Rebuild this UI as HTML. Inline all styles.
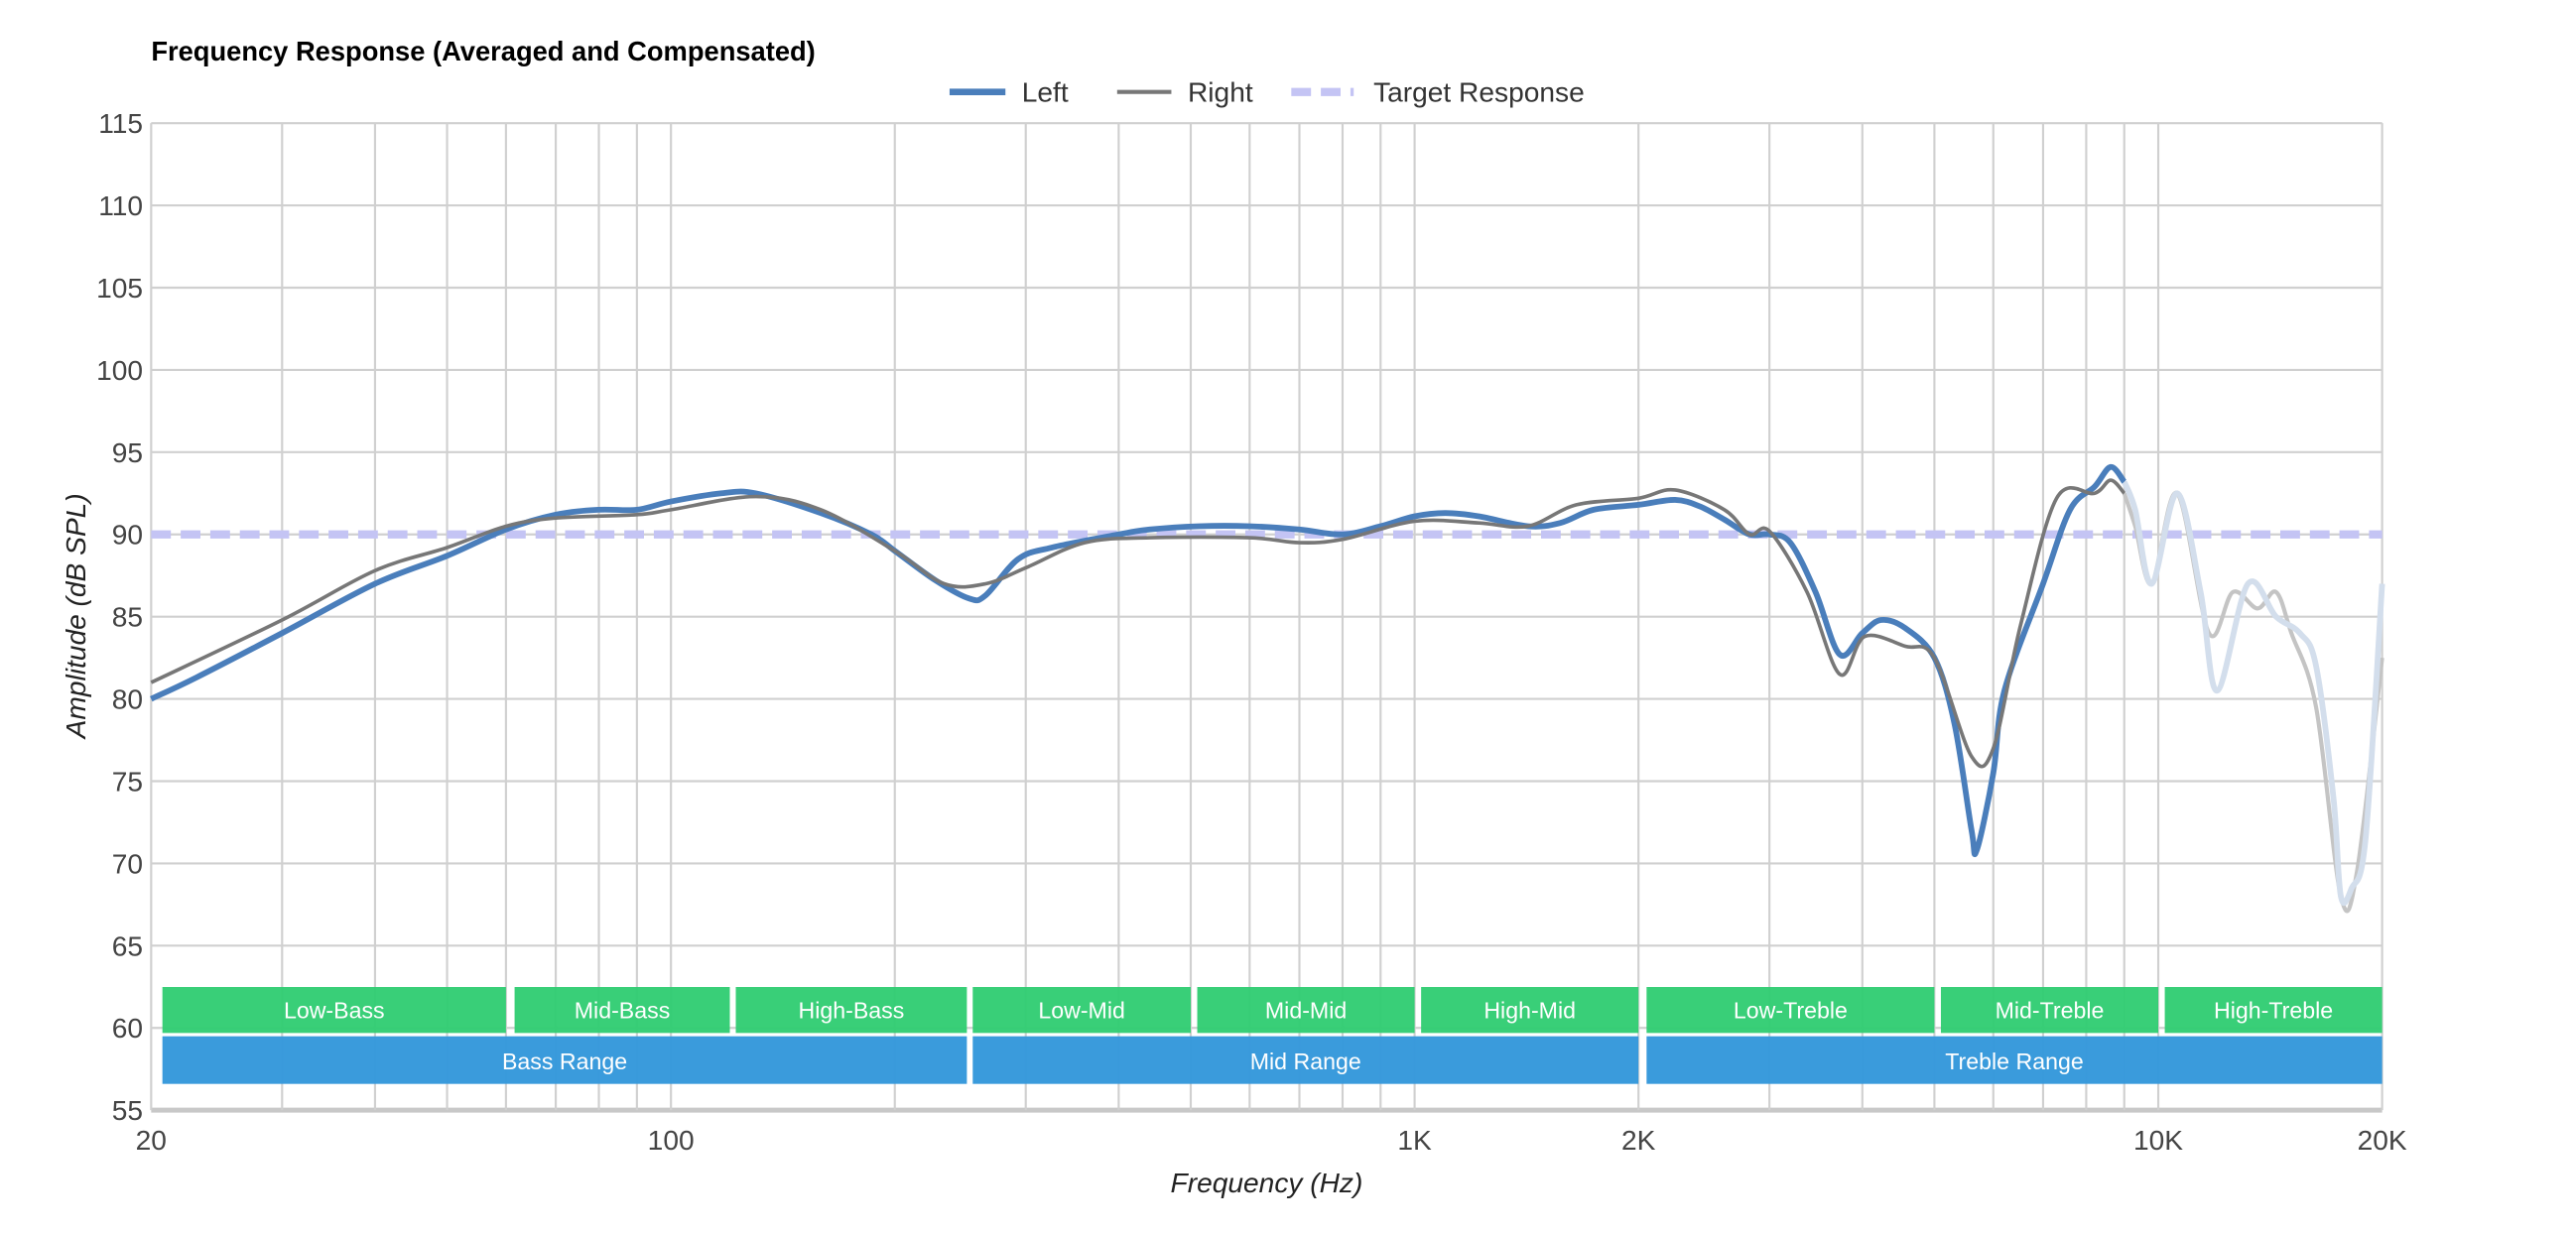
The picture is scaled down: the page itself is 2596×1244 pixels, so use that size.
<!DOCTYPE html>
<html><head><meta charset="utf-8"><style>
html,body{margin:0;padding:0;background:#fff;}
svg{display:block;font-family:"Liberation Sans",sans-serif;}
</style></head><body>
<svg id="chart" width="2596" height="1244" viewBox="0 0 1568 751.4" preserveAspectRatio="none" xmlns="http://www.w3.org/2000/svg">
<text x="92" y="37" font-size="16.5" font-weight="bold" fill="#000">Frequency Response (Averaged and Compensated)</text>
<g font-size="17" fill="#333">
<g><line x1="578" y1="56" x2="612" y2="56" stroke="#4a7ebb" stroke-width="4"/><text x="622" y="62">Left</text></g>
<g><line x1="680" y1="56" x2="713" y2="56" stroke="#777" stroke-width="2.5"/><text x="723" y="62">Right</text></g>
<g><line x1="786" y1="56" x2="824" y2="56" stroke="#c4c4f4" stroke-width="5" stroke-dasharray="12,6"/><text x="836" y="62">Target Response</text></g>
</g>
<g id="grid"></g>
<g id="bands"></g>
<g id="series"></g>
<g id="axes"></g>
<text x="771" y="726" font-size="17" font-style="italic" text-anchor="middle" fill="#222">Frequency (Hz)</text>
<text transform="translate(52,375) rotate(-90)" font-size="17" font-style="italic" text-anchor="middle" fill="#222">Amplitude (dB SPL)</text>
</svg>
<script>
const yTicks=[55,60,65,70,75,80,85,90,95,100,105,110,115];
const xGridFreqs=[20,30,40,50,60,70,80,90,100,200,300,400,500,600,700,800,900,1000,2000,3000,4000,5000,6000,7000,8000,9000,10000,20000];
const xTickFreqs=[20,100,1000,2000,10000,20000];
const xTickLabels=["20","100","1K","2K","10K","20K"];
const targetLevel=90;
const leftFreq=[20,23,30,40,50,60,70,80,90,100,117,130,159,186,200,227,252,265,293,325,400,440,513,600,700,800,900,1000,1100,1220,1420,1570,1740,2000,2240,2420,2610,2820,3000,3200,3460,3730,4000,4240,4570,5000,5320,5610,5700,6000,6210,7000,7610,8210,8630,9000];
const leftDb=[80,81.3,84,87,88.7,90.3,91.2,91.5,91.5,92,92.5,92.5,91.3,90,89,87.2,86.1,86.3,88.5,89.2,90,90.3,90.5,90.5,90.3,90,90.5,91.1,91.3,91.1,90.5,90.7,91.5,91.8,92.1,91.7,90.9,90,90,89.5,86.5,82.7,84,84.8,84.3,82.5,78.5,72,70.8,75.5,80.5,87,91.5,92.9,94.1,93.2];
const leftFadeFreq=[9000,9310,9800,10600,11400,12000,13200,14400,15500,16300,17200,17600,18200,19000,20000];
const leftFadeDb=[93.2,91.5,87,92.5,86.5,80.5,87,85,84,82,74,68,68.5,71.5,87];
const rightFreq=[20,30,40,50,60,70,90,100,130,159,200,233,265,301,360,440,600,700,800,1000,1220,1420,1650,2000,2240,2610,2820,3000,3370,3730,4030,4570,5000,5610,6000,6530,7300,8210,8630,9000];
const rightDb=[81,84.8,87.8,89.2,90.5,91,91.2,91.5,92.3,91.5,89,87,87,88,89.5,89.8,89.8,89.5,89.7,90.8,90.7,90.5,91.8,92.2,92.7,91.5,90,90.2,86.5,81.5,83.8,83.2,82.5,76.5,77,84.5,92.2,92.5,93.3,92.5];
const rightFadeFreq=[9000,9310,9800,10600,11700,12600,13600,14400,15100,16300,17600,18500,20000];
const rightFadeDb=[92.5,90.5,87,92.5,84,86.5,85.5,86.5,84,79.5,68,69.5,82.5];
const bandNames=["Low-Bass","Mid-Bass","High-Bass","Low-Mid","Mid-Mid","High-Mid","Low-Treble","Mid-Treble","High-Treble"];
const bandEdges=[[20.5,60],[61,120],[121,250],[252,500],[505,1000],[1010,2000],[2030,5000],[5050,10000],[10100,20000]];
const rangeNames=["Bass Range","Mid Range","Treble Range"];
const rangeEdges=[[20.5,250],[252,2000],[2030,20000]];

const NS="http://www.w3.org/2000/svg";
const X0=92,X1=1450,Y0=676,Y1=75;
const xs=f=>X0+(X1-X0)*Math.log10(f/20)/3;
const ys=v=>Y0-(Y0-Y1)*(v-55)/60;
function mk(tag,attrs,parent){const e=document.createElementNS(NS,tag);for(const k in attrs)e.setAttribute(k,attrs[k]);parent.appendChild(e);return e;}
const grid=document.getElementById('grid'),bands=document.getElementById('bands'),series=document.getElementById('series'),axes=document.getElementById('axes');
yTicks.forEach(v=>{
 const l=mk('line',{x1:X0,x2:X1,y1:ys(v),y2:ys(v),stroke:v===55?'#c8c8c8':'#d0d0d0','stroke-width':v===55?3:1.3},grid);
 
 
 const t=mk('text',{x:87,y:ys(v)+6,'text-anchor':'end','font-size':17,fill:'#444'},axes);
 t.textContent=v;
 
 
});
xGridFreqs.forEach(f=>{
 const l=mk('line',{x1:xs(f),x2:xs(f),y1:Y1,y2:Y0,stroke:'#d0d0d0','stroke-width':1.3},grid);
 
 
});
xTickFreqs.forEach((f,i)=>{
 const t=mk('text',{x:xs(f),y:700,'text-anchor':'middle','font-size':17,fill:'#444'},axes);
 t.textContent=xTickLabels[i];
 
 
});
bandEdges.forEach((e,i)=>{
 const x=xs(e[0])+2,w=xs(e[1])-xs(e[0])-2;
 const r=mk('rect',{x:x,y:601,width:w,height:28,fill:'#2ecc71','fill-opacity':0.95},bands);
 
 
 const t=mk('text',{x:x+w/2,y:620,'text-anchor':'middle','font-size':14,fill:'#fff'},bands);
 t.textContent=bandNames[i];
 
 
});
rangeEdges.forEach((e,i)=>{
 const x=xs(e[0])+2,w=xs(e[1])-xs(e[0])-2;
 const r=mk('rect',{x:x,y:631,width:w,height:29,fill:'#3498db','fill-opacity':0.97},bands);
 
 
 const t=mk('text',{x:x+w/2,y:651,'text-anchor':'middle','font-size':14,fill:'#fff'},bands);
 t.textContent=rangeNames[i];
 
 
});
function pathD(fr,db){
 const p=fr.map((f,i)=>[xs(f),ys(db[i])]);
 let d='M'+p[0][0]+','+p[0][1];
 for(let i=0;i<p.length-1;i++){
  const a=p[i-1]||p[i],b=p[i],c=p[i+1],e=p[i+2]||c;
  const c1=[b[0]+(c[0]-a[0])/6,b[1]+(c[1]-a[1])/6],c2=[c[0]-(e[0]-b[0])/6,c[1]-(e[1]-b[1])/6];
  d+=' C'+c1+' '+c2+' '+c;
 }
 return d;
}
const t=mk('line',{x1:X0,x2:X1,y1:ys(targetLevel),y2:ys(targetLevel),stroke:'#c4c4f4','stroke-width':5,'stroke-dasharray':'12,6'},series);


const rf=mk('path',{d:pathD(rightFadeFreq,rightFadeDb),fill:'none',stroke:'#c4c4c4','stroke-width':2.5},series);


const lf=mk('path',{d:pathD(leftFadeFreq,leftFadeDb),fill:'none',stroke:'#d3deec','stroke-width':3.5},series);


const lp=mk('path',{d:pathD(leftFreq,leftDb),fill:'none',stroke:'#4a7ebb','stroke-width':3.5},series);


const rp=mk('path',{d:pathD(rightFreq,rightDb),fill:'none',stroke:'#777','stroke-width':2.2},series);


</script>
</body></html>
